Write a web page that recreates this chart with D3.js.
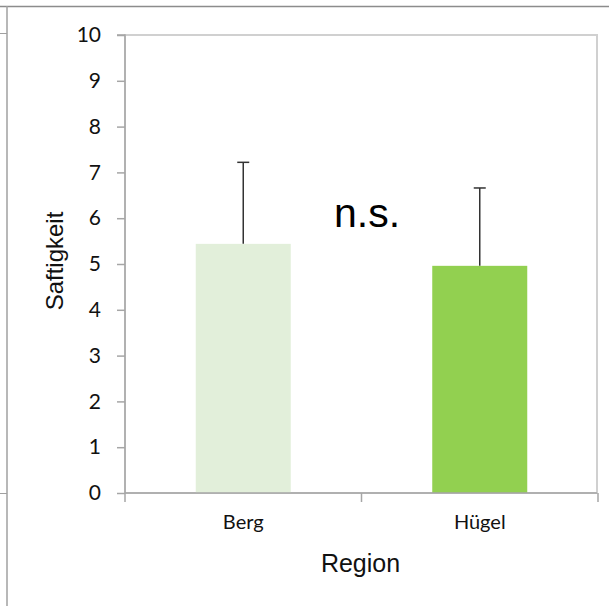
<!DOCTYPE html>
<html><head><meta charset="utf-8">
<script src="https://cdn.jsdelivr.net/npm/d3@7"></script>
<style>body{margin:0;background:#fff}svg{display:block}</style>
</head><body>
<script>
const categories = ["Berg", "Hügel"];
const means = [5.44, 4.96];
const errors = [1.78, 1.70];
const barColors = ["#e2efda", "#92d050"];
const yTicks = [0,1,2,3,4,5,6,7,8,9,10];
const yTitle = "Saftigkeit";
const xTitle = "Region";
const annotation = "n.s.";

(function(){
const W = 609, H = 606;
const svg = d3.select("body").append("svg").attr("width", W).attr("height", H);

// outer frame lines
svg.append("line").attr("x1",0).attr("x2",W).attr("y1",6.5).attr("y2",6.5).attr("stroke","#8c8c8c").attr("stroke-width",1.5);
svg.append("line").attr("x1",7).attr("x2",7).attr("y1",6).attr("y2",H).attr("stroke","#a0a0a0").attr("stroke-width",1.5);
svg.append("line").attr("x1",0).attr("x2",7).attr("y1",33.5).attr("y2",33.5).attr("stroke","#a0a0a0").attr("stroke-width",1);
svg.append("line").attr("x1",0).attr("x2",7).attr("y1",493.5).attr("y2",493.5).attr("stroke","#a0a0a0").attr("stroke-width",1);

const mLeft = 125, mRight = 597, mTop = 35, mBottom = 493;
// plot area border
svg.append("rect").attr("x",mLeft).attr("y",mTop).attr("width",mRight-mLeft).attr("height",mBottom-mTop)
  .attr("fill","none").attr("stroke","#d0d0d0").attr("stroke-width",2);

const x = d3.scaleBand().domain(categories).range([mLeft, mRight + 1]).paddingInner(0).paddingOuter(0);
const y = d3.scaleLinear().domain([0, 10]).range([mBottom, mTop]);
const barW = 95;

// bars
svg.selectAll("rect.bar").data(categories).join("rect").attr("class","bar")
  .attr("x", (d) => x(d) + x.bandwidth()/2 - barW/2)
  .attr("width", barW)
  .attr("y", (d,i) => y(means[i]))
  .attr("height", (d,i) => y(0) - y(means[i]))
  .attr("fill", (d,i) => barColors[i]);

// error bars
const eg = svg.append("g").attr("stroke","#333").attr("stroke-width",1.5);
categories.forEach((c,i) => {
  const cx = x(c) + x.bandwidth()/2;
  eg.append("line").attr("x1",cx).attr("x2",cx).attr("y1",y(means[i])).attr("y2",y(means[i]+errors[i]));
  eg.append("line").attr("x1",cx-6).attr("x2",cx+6).attr("y1",y(means[i]+errors[i])).attr("y2",y(means[i]+errors[i]));
});

// y axis
const yAxis = d3.axisLeft(y).tickValues(yTicks).tickSize(8).tickPadding(16).tickFormat(d3.format("d"));
const gy = svg.append("g").attr("transform",`translate(${mLeft},0)`).call(yAxis);
gy.select(".domain").attr("stroke","#a6a6a6").attr("stroke-width",1.5).attr("d",`M-8,${mTop}H0V${mBottom+9}`);
gy.selectAll(".tick line").attr("stroke","#a6a6a6").attr("stroke-width",1.5);
gy.selectAll(".tick text").attr("font-family","Lato, 'Open Sans', sans-serif").attr("font-size",21).attr("fill","#111");

// x axis
const xAxis = d3.axisBottom(x).tickSize(0).tickPadding(22);
const gx = svg.append("g").attr("transform",`translate(0,${mBottom})`).call(xAxis);
gx.select(".domain").attr("stroke","#a6a6a6").attr("stroke-width",1.5).attr("d",`M${mLeft},0H${mRight}`);
gx.selectAll(".tick text").attr("font-family","Lato, 'Open Sans', sans-serif").attr("font-size",20).attr("fill","#111");
// boundary ticks between categories
const bounds = categories.map(c => x(c) + x.bandwidth());
svg.append("g").selectAll("line").data(bounds).join("line")
  .attr("x1",d=>d).attr("x2",d=>d).attr("y1",mBottom).attr("y2",mBottom+9)
  .attr("stroke","#a6a6a6").attr("stroke-width",1.5);

// titles
svg.append("text").attr("x", (mLeft+mRight)/2 - 0.5).attr("y", 572).attr("text-anchor","middle")
  .attr("font-family","'Liberation Sans', Arial, sans-serif").attr("font-size",25).attr("fill","#111").text(xTitle);
svg.append("text").attr("transform","translate(63,261) rotate(-90)").attr("text-anchor","middle")
  .attr("font-family","'Liberation Sans', Arial, sans-serif").attr("font-size",24).attr("fill","#111").text(yTitle);

// annotation
svg.append("text").attr("x", 367).attr("y", 227).attr("text-anchor","middle")
  .attr("font-family","'Liberation Sans', Arial, sans-serif").attr("font-size",41).attr("fill","#000").text(annotation);
})();
</script>
</body></html>
